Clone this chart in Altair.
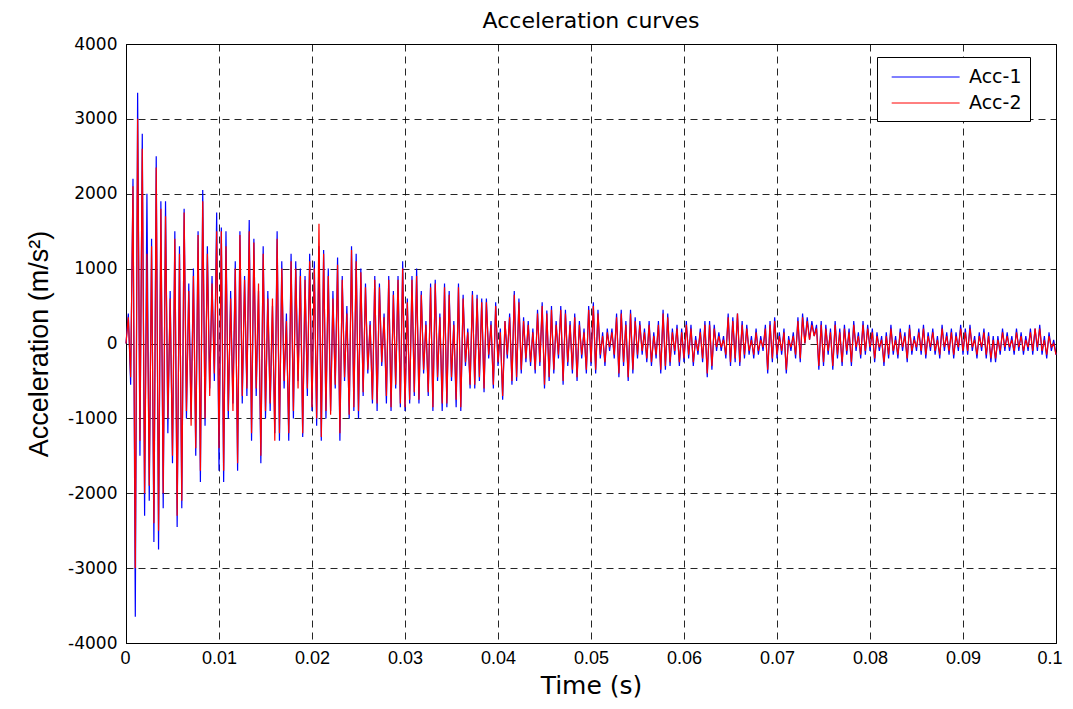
import altair as alt
import pandas as pd

DT = 0.00025  # sample interval (s)

acc1 = [
    0, 400, -550, 2200, -3650, 3350, -1500, 2800, -2300, 2000,
    -2100, 1400, -2650, 2500, -2750, 1900, -2200, 1900, -1200, 700,
    -1600, 1500, -2450, 1300, -2200, 1800, -1000, 800, -1000, 1000,
    -1500, 1500, -1850, 2050, -1100, 1300, -600, 900, -500, 1750,
    -1700, 1550, -1850, 1500, -1000, 700, -800, 1100, -1700, 1500,
    -800, 900, -700, 1650, -1300, 1400, -700, 700, -1600, 1300,
    -1000, 700, -900, 500, -1200, 1500, -1300, 1100, -600, 400,
    -1300, 1200, -1000, 1100, -500, 1000, -1250, 900, -700, 1200,
    -900, 1100, -1100, 1300, -1300, 1250, -1000, 1000, -900, 700,
    -600, 1150, -1300, 900, -500, 500, -1000, 1300, -900, 1200,
    -1000, 1000, -700, 800, -400, 300, -800, 900, -900, 800,
    -300, 400, -800, 900, -900, 700, -600, 900, -850, 1100,
    -900, 600, -800, 900, -700, 1000, -800, 700, -400, 300,
    -700, 800, -900, 850, -500, 400, -900, 800, -850, 700,
    -500, 300, -850, 800, -900, 650, -300, 200, -600, 700,
    -600, 650, -500, 600, -650, 600, -200, 300, -600, 550,
    -300, 200, -750, 300, -200, 400, -550, 700, -500, 600,
    -400, 350, -250, 300, -300, 200, -400, 450, -300, 550,
    -600, 440, -500, 500, -400, 300, -200, 500, -550, 450,
    -300, 300, -400, 400, -500, 300, -200, 200, -400, 500,
    -300, 550, -400, 450, -200, 150, -300, 200, -100, 200,
    -200, 400, -450, 450, -300, 300, -500, 450, -400, 350,
    -200, 300, -150, 200, -250, 300, -300, 150, -200, 300,
    -400, 450, -350, 400, -300, 200, -150, 250, -300, 200,
    -250, 300, -200, 250, -300, 100, -150, 200, -250, 300,
    -450, 300, -350, 250, -100, 150, -100, 100, -200, 400,
    -300, 350, -250, 400, -300, 300, -200, 250, -150, 100,
    -200, 200, -150, 100, -100, 250, -400, 300, -250, 350,
    -200, 150, -150, 200, -400, 100, -100, 150, -200, 350,
    -250, 400, 0, 350, 50, 300, 100, 250, -350, 300,
    -300, 250, -150, 200, -350, 300, -200, 200, -300, 250,
    -150, 200, -300, 300, -100, 150, -200, 300, -150, 250,
    -100, 200, -250, 150, -100, 100, -300, 150, -200, 250,
    -150, 100, -200, 200, -100, 150, -250, 250, -150, 100,
    -100, 200, -150, 250, -200, 150, -100, 200, -150, 100,
    -200, 250, -100, 150, -150, 200, -200, 150, -100, 250,
    -150, 200, -150, 250, -100, 100, -200, 150, -100, 200,
    -200, 150, -250, 100, -250, 100, -150, 200, -100, 150,
    -100, 100, -150, 200, -100, 150, -150, 100, -100, 200,
    -150, 200, -100, 250, -150, 100, -200, 150, -100, 50,
    -150,
]

acc2 = [
    0, 350, -450, 2100, -3000, 3000, -1300, 2600, -2000, 1200,
    -1900, 1300, -2400, 2350, -2500, 1800, -2000, 1700, -1000, 600,
    -1500, 1400, -2300, 1200, -2100, 1750, -900, 700, -1100, 900,
    -1400, 1450, -1700, 1900, -1000, 1200, -700, 800, -400, 1500,
    -1400, 1500, -1700, 1300, -900, 600, -900, 1000, -1600, 1450,
    -700, 850, -600, 1500, -1200, 1350, -600, 800, -1500, 1200,
    -900, 600, -800, 600, -1300, 1400, -1200, 1000, -500, 300,
    -1200, 1100, -900, 1000, -600, 900, -1200, 850, -600, 1100,
    -850, 1000, -1000, 1600, -1250, 1200, -900, 900, -950, 600,
    -550, 1050, -1200, 850, -450, 400, -950, 1250, -850, 1100,
    -900, 950, -650, 750, -350, 250, -750, 850, -800, 750,
    -250, 350, -700, 850, -850, 650, -550, 850, -800, 1000,
    -850, 550, -750, 850, -650, 900, -750, 650, -350, 250,
    -650, 750, -850, 800, -450, 350, -800, 750, -800, 650,
    -450, 250, -750, 750, -850, 600, -250, 150, -550, 650,
    -550, 600, -450, 550, -600, 550, -150, 250, -550, 500,
    -250, 150, -700, 300, -150, 350, -500, 650, -450, 550,
    -350, 300, -200, 250, -250, 150, -350, 400, -250, 500,
    -550, 400, -450, 450, -350, 250, -150, 450, -500, 400,
    -250, 250, -350, 350, -450, 250, -150, 150, -350, 450,
    -250, 500, -350, 400, -150, 100, -250, 150, -50, 150,
    -150, 350, -400, 400, -250, 250, -450, 400, -350, 300,
    -150, 250, -100, 150, -200, 250, -250, 100, -150, 250,
    -350, 400, -300, 350, -250, 150, -100, 200, -250, 150,
    -200, 250, -150, 200, -250, 50, -100, 150, -200, 250,
    -400, 250, -300, 200, -50, 100, -50, 50, -150, 350,
    -250, 300, -200, 400, -250, 250, -150, 200, -100, 50,
    -150, 150, -100, 50, -50, 200, -350, 250, -200, 300,
    -150, 100, -100, 150, -350, 50, -50, 100, -150, 300,
    -200, 350, 0, 300, 50, 250, 100, 200, -300, 250,
    -250, 200, -100, 150, -300, 250, -150, 150, -250, 200,
    -100, 150, -250, 250, -50, 100, -150, 250, -100, 200,
    -50, 150, -200, 100, -50, 50, -250, 100, -150, 200,
    -100, 50, -150, 150, -50, 100, -200, 200, -100, 50,
    -50, 150, -100, 200, -150, 100, -50, 150, -100, 50,
    -150, 200, -50, 100, -100, 150, -150, 100, -50, 200,
    -100, 150, -100, 200, -50, 50, -150, 100, -50, 150,
    -150, 100, -200, 50, -200, 50, -100, 150, -50, 100,
    -50, 50, -100, 150, -50, 100, -100, 50, -50, 150,
    -100, 200, -50, 200, -100, 50, -150, 100, -50, 0,
    -150,
]

series_names = ["Acc-1", "Acc-2"]
series_colors = ["#0000ff", "#ff0000"]
x_ticks = [0, 0.01, 0.02, 0.03, 0.04, 0.05, 0.06, 0.07, 0.08, 0.09, 0.1]
y_ticks = [-4000, -3000, -2000, -1000, 0, 1000, 2000, 3000, 4000]

rows = []
for name, vals in zip(series_names, [acc1, acc2]):
    for i, v in enumerate(vals):
        rows.append({"t": round(i * DT, 6), "acc": v, "series": name})
df = pd.DataFrame(rows)

FONT = "Liberation Sans"
WIDE = "DejaVu Sans"

color = alt.Color(
    "series:N",
    scale=alt.Scale(domain=series_names, range=series_colors),
    legend=alt.Legend(
        title=None, orient="none", legendX=751, legendY=13,
        fillColor="white", strokeColor="black", padding=8,
        labelFont=WIDE, labelFontSize=19, labelColor="black",
        symbolType="M-1,0H5", symbolSize=513, symbolStrokeWidth=1,
        symbolOffset=6, rowPadding=4, labelOffset=54,
    ),
)

x = alt.X(
    "t:Q",
    scale=alt.Scale(domain=[0, 0.1], nice=False, zero=False),
    axis=alt.Axis(
        values=x_ticks, format="~g", title="Time (s)",
        titleFont=WIDE, titleFontSize=25, titleFontWeight="normal",
        titleColor="black", titlePadding=6,
        labelFont=FONT, labelFontSize=18, labelColor="black", labelPadding=6,
        ticks=False, grid=True, gridDash=[7, 5], gridColor="black",
        gridOpacity=0.85, domainColor="black",
        labelFlush=True, labelFlushOffset=6,
    ),
)
y = alt.Y(
    "acc:Q",
    scale=alt.Scale(domain=[-4000, 4000], nice=False),
    axis=alt.Axis(
        values=y_ticks, labelExpr="'' + datum.value",
        title="Acceleration (m/s²)",
        titleFont=FONT, titleFontSize=27, titleFontWeight="normal",
        titleColor="black", titlePadding=14,
        labelFont=WIDE, labelFontSize=17, labelColor="black", labelPadding=9,
        ticks=False, grid=True, gridDash=[7, 5], gridColor="black",
        gridOpacity=0.85, domainColor="black",
    ),
)

blue = alt.Chart(df[df.series == "Acc-1"]).mark_line(strokeWidth=1.2).encode(
    x=x, y=y, color=color, order="t:Q"
)
red = alt.Chart(df[df.series == "Acc-2"]).mark_line(strokeWidth=1.2).encode(
    x=x, y=y, color=color, order="t:Q"
)

chart = (
    alt.layer(blue, red)
    .properties(
        width=930, height=599,
        title=alt.TitleParams(
            "Acceleration curves", font=WIDE, fontSize=22,
            fontWeight="normal", color="black", offset=2,
        ),
        autosize=alt.AutoSizeParams(type="none"),
        padding={"left": 118, "top": 36, "right": 9, "bottom": 58},
        background="white",
    )
    .configure_view(stroke="black", strokeWidth=1)
)

chart.save("out.html", embed_options={"renderer": "svg", "actions": False})
